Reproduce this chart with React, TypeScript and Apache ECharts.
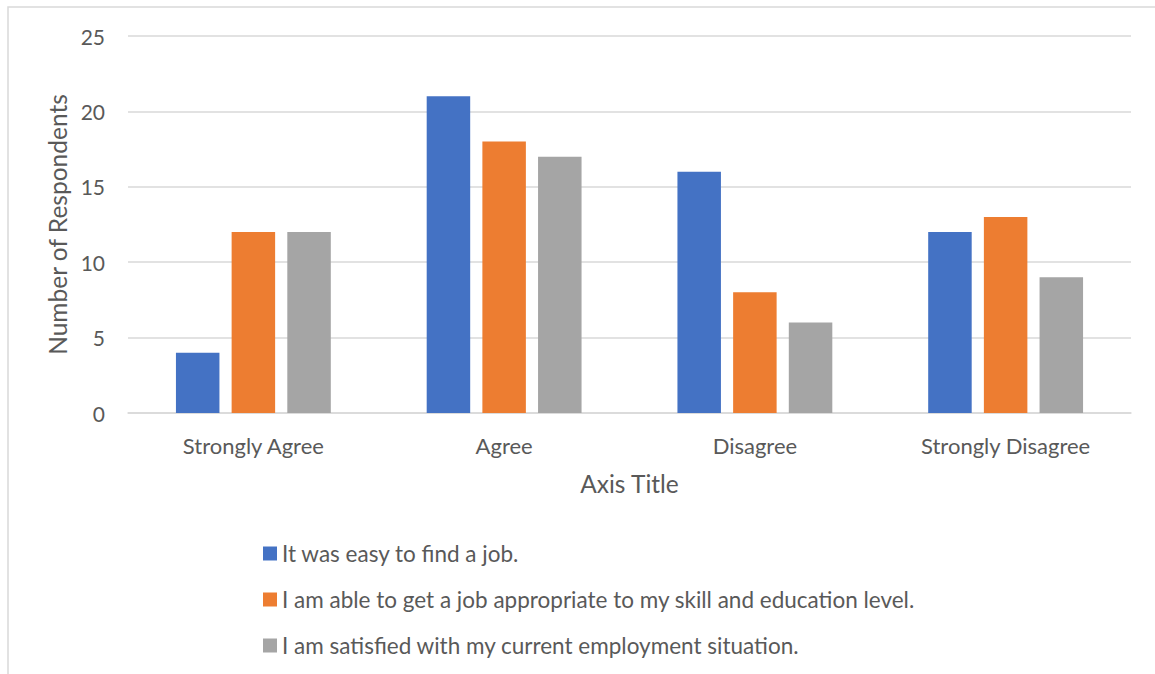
import React, { useEffect, useRef } from "react";
import * as echarts from "echarts";

const categories = ["Strongly Agree", "Agree", "Disagree", "Strongly Disagree"];
const seriesNames = [
  "It was easy to find a job.",
  "I am able to get a job appropriate to my skill and education level.",
  "I am satisfied with my current employment situation.",
];
const easyToFind = [4, 21, 16, 12];
const ableToGet = [12, 18, 8, 13];
const satisfied = [12, 17, 6, 9];
const colors = ["#4472C4", "#ED7D31", "#A5A5A5"];

const FONT = "Lato";
const TEXT = "#595959";

export default function App() {
  const ref = useRef<HTMLDivElement>(null);
  useEffect(() => {
    if (!ref.current) return;
    const chart = echarts.init(ref.current, null, { renderer: "svg" });
    const values = [easyToFind, ableToGet, satisfied];
    chart.setOption({
      animation: false,
      textStyle: { fontFamily: FONT },
      graphic: [
        {
          type: "rect",
          shape: { x: 8, y: 7, width: 1200, height: 720 },
          style: { fill: "none", stroke: "#d9d9d9", lineWidth: 1.5 },
          silent: true,
        },
      ],
      grid: { left: 128, right: 24, top: 36, bottom: 261 },
      legend: {
        orient: "vertical",
        left: 263,
        top: 542,
        padding: 0,
        icon: "rect",
        itemWidth: 14,
        itemHeight: 14,
        itemGap: 23,
        itemStyle: { borderWidth: 0 },
        textStyle: { color: TEXT, fontSize: 22.5, fontFamily: FONT, lineHeight: 22 },
        data: seriesNames,
      },
      xAxis: {
        type: "category",
        data: categories,
        axisLine: { show: true, lineStyle: { color: "#d9d9d9", width: 1.5 } },
        axisTick: { show: false },
        axisLabel: { color: TEXT, fontSize: 22, fontFamily: FONT, margin: 21 },
        name: "Axis Title",
        nameLocation: "middle",
        nameGap: 58,
        nameTextStyle: { color: TEXT, fontSize: 24.5, fontFamily: FONT },
      },
      yAxis: {
        type: "value",
        min: 0,
        max: 25,
        interval: 5,
        axisLine: { show: false },
        axisTick: { show: false },
        axisLabel: { color: TEXT, fontSize: 21, fontFamily: FONT, margin: 23 },
        splitLine: { lineStyle: { color: "#d9d9d9", width: 1.5 } },
        name: "Number of Respondents",
        nameLocation: "middle",
        nameGap: 58,
        nameTextStyle: { color: TEXT, fontSize: 24.5, fontFamily: FONT },
      },
      series: seriesNames.map((name, i) => ({
        name,
        type: "bar",
        data: values[i],
        barWidth: 43.5,
        barGap: "28%",
        itemStyle: { color: colors[i] },
      })),
    });
    return () => chart.dispose();
  }, []);
  return (
    <div
      ref={ref}
      style={{ position: "absolute", left: 0, top: 0, width: 1155, height: 674, background: "#fff" }}
    />
  );
}
